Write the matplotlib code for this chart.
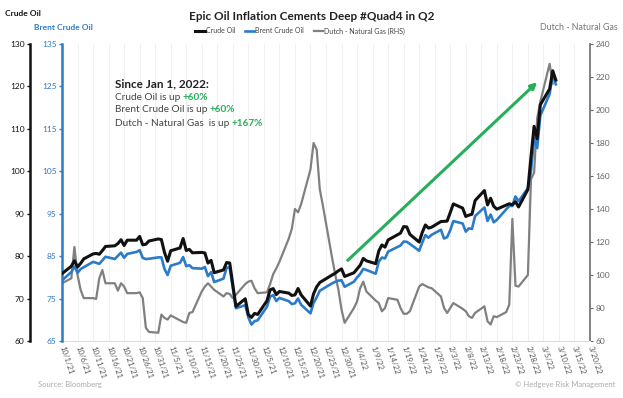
import matplotlib
matplotlib.use('Agg')
import matplotlib.pyplot as plt
import pandas as pd

plt.rcParams['font.family'] = ['Lato', 'DejaVu Sans']

# ---------------- data ----------------
oil_dates = [
    '2021-10-01', '2021-10-04', '2021-10-05', '2021-10-06', '2021-10-07', '2021-10-08',
    '2021-10-11', '2021-10-12', '2021-10-13', '2021-10-14', '2021-10-15',
    '2021-10-18', '2021-10-19', '2021-10-20', '2021-10-21', '2021-10-22',
    '2021-10-25', '2021-10-26', '2021-10-27', '2021-10-28', '2021-10-29',
    '2021-11-01', '2021-11-02', '2021-11-03', '2021-11-04', '2021-11-05',
    '2021-11-08', '2021-11-09', '2021-11-10', '2021-11-11', '2021-11-12',
    '2021-11-15', '2021-11-16', '2021-11-17', '2021-11-18', '2021-11-19',
    '2021-11-22', '2021-11-23', '2021-11-24', '2021-11-26',
    '2021-11-29', '2021-11-30', '2021-12-01', '2021-12-02', '2021-12-03',
    '2021-12-06', '2021-12-07', '2021-12-08', '2021-12-09', '2021-12-10',
    '2021-12-13', '2021-12-14', '2021-12-15', '2021-12-16', '2021-12-17',
    '2021-12-20', '2021-12-21', '2021-12-22', '2021-12-23',
    '2021-12-27', '2021-12-28', '2021-12-29', '2021-12-30', '2021-12-31',
    '2022-01-03', '2022-01-04', '2022-01-05', '2022-01-06', '2022-01-07',
    '2022-01-10', '2022-01-11', '2022-01-12', '2022-01-13', '2022-01-14',
    '2022-01-18', '2022-01-19', '2022-01-20', '2022-01-21',
    '2022-01-24', '2022-01-25', '2022-01-26', '2022-01-27', '2022-01-28',
    '2022-01-31', '2022-02-01', '2022-02-02', '2022-02-03', '2022-02-04',
    '2022-02-07', '2022-02-08', '2022-02-09', '2022-02-10', '2022-02-11',
    '2022-02-14', '2022-02-15', '2022-02-16', '2022-02-17', '2022-02-18',
    '2022-02-22', '2022-02-23', '2022-02-24', '2022-02-25',
    '2022-02-28', '2022-03-01', '2022-03-02', '2022-03-03', '2022-03-04',
    '2022-03-07', '2022-03-08', '2022-03-09',
]
crude_oil = [
    75.88, 77.62, 78.93, 77.43, 78.30, 79.35,
    80.52, 80.64, 80.44, 81.31, 82.28,
    82.44, 82.96, 83.87, 82.50, 83.76,
    83.76, 84.65, 82.66, 82.81, 83.57,
    84.05, 83.91, 80.86, 78.81, 81.27,
    81.93, 84.15, 81.34, 81.59, 80.79,
    80.88, 80.76, 78.36, 79.01, 76.10,
    76.75, 78.50, 78.39, 68.15,
    69.95, 66.18, 65.57, 66.50, 66.26,
    69.49, 72.05, 72.36, 70.94, 71.67,
    71.29, 70.73, 70.87, 72.38, 70.86,
    68.23, 71.12, 72.76, 73.79,
    75.57, 75.98, 76.56, 76.99, 75.21,
    76.08, 76.99, 77.85, 79.46, 78.90,
    78.23, 81.22, 82.64, 82.12, 83.82,
    85.43, 86.96, 86.90, 85.14,
    83.31, 85.60, 87.35, 86.61, 86.82,
    88.15, 88.20, 88.26, 90.27, 92.31,
    91.32, 89.36, 89.66, 89.88, 93.10,
    95.46, 92.07, 93.66, 91.76, 91.07,
    92.35, 92.10, 92.81, 91.59,
    95.72, 103.41, 110.60, 107.67, 115.68,
    119.40, 123.70, 121.50,
]
brent_crude_oil = [
    79.28, 81.26, 82.56, 81.08, 81.95, 82.39,
    83.65, 83.42, 83.18, 84.00, 84.86,
    84.33, 85.08, 85.82, 84.61, 85.53,
    85.99, 86.40, 84.58, 84.32, 84.38,
    84.71, 84.72, 81.99, 80.54, 82.74,
    83.43, 84.78, 82.64, 82.87, 82.17,
    82.05, 82.43, 80.28, 81.24, 78.89,
    79.70, 82.31, 82.25, 72.72,
    73.44, 70.57, 68.87, 69.67, 69.88,
    73.08, 75.44, 75.82, 74.42, 75.15,
    74.39, 73.70, 73.88, 75.02, 73.52,
    71.52, 73.98, 75.29, 76.85,
    78.60, 78.94, 79.23, 79.32, 77.78,
    78.98, 80.00, 80.80, 81.99, 81.75,
    80.87, 83.72, 84.67, 84.47, 86.06,
    87.51, 88.44, 88.38, 87.89,
    86.27, 88.20, 89.96, 89.34, 90.03,
    91.21, 89.16, 89.47, 91.11, 93.27,
    92.69, 90.78, 91.55, 91.41, 94.44,
    96.48, 93.28, 94.81, 92.97, 93.54,
    96.84, 96.84, 99.08, 97.93,
    100.99, 104.97, 112.93, 110.46, 118.11,
    123.21, 127.98, 125.50,
]
gas_dates = [
    '2021-10-01', '2021-10-04', '2021-10-05', '2021-10-06', '2021-10-07', '2021-10-08',
    '2021-10-11', '2021-10-12', '2021-10-13', '2021-10-14', '2021-10-15',
    '2021-10-18', '2021-10-19', '2021-10-20', '2021-10-21', '2021-10-22',
    '2021-10-25', '2021-10-26', '2021-10-27', '2021-10-28', '2021-10-29',
    '2021-11-01', '2021-11-02', '2021-11-03', '2021-11-04', '2021-11-05',
    '2021-11-08', '2021-11-09', '2021-11-10', '2021-11-11', '2021-11-12',
    '2021-11-15', '2021-11-16', '2021-11-17', '2021-11-18', '2021-11-19',
    '2021-11-22', '2021-11-23', '2021-11-24', '2021-11-25', '2021-11-26',
    '2021-11-29', '2021-11-30', '2021-12-01', '2021-12-02', '2021-12-03',
    '2021-12-06', '2021-12-07', '2021-12-08', '2021-12-09', '2021-12-10',
    '2021-12-13', '2021-12-14', '2021-12-15', '2021-12-16', '2021-12-17',
    '2021-12-20', '2021-12-21', '2021-12-22', '2021-12-23', '2021-12-24',
    '2021-12-27', '2021-12-28', '2021-12-29', '2021-12-30', '2021-12-31',
    '2022-01-03', '2022-01-04', '2022-01-05', '2022-01-06', '2022-01-07',
    '2022-01-10', '2022-01-11', '2022-01-12', '2022-01-13', '2022-01-14',
    '2022-01-17', '2022-01-18', '2022-01-19', '2022-01-20', '2022-01-21',
    '2022-01-24', '2022-01-25', '2022-01-26', '2022-01-27', '2022-01-28',
    '2022-01-31', '2022-02-01', '2022-02-02', '2022-02-03', '2022-02-04',
    '2022-02-07', '2022-02-08', '2022-02-09', '2022-02-10', '2022-02-11',
    '2022-02-14', '2022-02-15', '2022-02-16', '2022-02-17', '2022-02-18',
    '2022-02-21', '2022-02-22', '2022-02-23', '2022-02-24', '2022-02-25',
    '2022-02-28', '2022-03-01', '2022-03-02', '2022-03-03', '2022-03-04',
    '2022-03-07', '2022-03-08',
]
dutch_gas = [
    95, 98, 117, 100, 91, 86,
    86, 85.5, 98, 103, 95,
    95, 90.5, 95, 93, 89,
    89, 89.5, 86, 68, 65.5,
    65, 76, 74, 73, 75.5,
    72.5, 71.5, 71, 77, 77.5,
    90, 93, 95, 93, 91,
    87, 89, 88.5, 86, 88,
    94.5, 96, 96.5, 92, 89,
    89.5, 94.5, 100.5, 104, 108,
    122, 128, 140, 138, 143,
    164, 180, 176, 152, 142,
    110, 100, 91, 79, 71,
    80, 84, 92, 96, 90,
    84.5, 83, 78, 80, 86,
    85, 80, 76.5, 76.5, 78,
    93, 94.5, 93.5, 92.5, 92,
    87, 80, 77, 80, 83,
    79.5, 78, 75, 74, 77,
    81, 72, 70, 75, 74.5,
    77.5, 82, 134, 93.5, 93,
    100, 158, 162, 195, 205,
    228, 216,
]
crude_ticks = [60, 70, 80, 90, 100, 110, 120, 130]
brent_ticks = [65, 75, 85, 95, 105, 115, 125, 135]
gas_ticks = [60, 80, 100, 120, 140, 160, 180, 200, 220, 240]
x_tick_labels = [
    '10/1/21', '10/6/21', '10/11/21', '10/16/21', '10/21/21', '10/26/21', '10/31/21',
    '11/5/21', '11/10/21', '11/15/21', '11/20/21', '11/25/21', '11/30/21',
    '12/5/21', '12/10/21', '12/15/21', '12/20/21', '12/25/21', '12/30/21',
    '1/4/22', '1/9/22', '1/14/22', '1/19/22', '1/24/22', '1/29/22',
    '2/3/22', '2/8/22', '2/13/22', '2/18/22', '2/23/22', '2/28/22',
    '3/5/22', '3/10/22', '3/15/22', '3/20/22',
]
arrow_from = ('2022-01-01', 79.0)
arrow_to = ('2022-03-03', 121.0)

# ---------------- styling ----------------
BLACK = '#111111'
BLUE = '#2b7bcb'
GRAY = '#808080'
GREEN = '#27ae5a'
W, H = 623, 398

def fx(px):
    return px / W

def fy(py):
    return 1 - py / H

fig = plt.figure(figsize=(W / 100, H / 100), dpi=100, facecolor='white')
L, R, T, B = 62, 590, 44, 341
axg = fig.add_axes([fx(L), fy(B), fx(R) - fx(L), fy(T) - fy(B)])
axc = axg.twinx()
axb = axg.twinx()
axb.set_zorder(1)
axc.set_zorder(2)
for a in (axc, axb):
    a.patch.set_visible(False)

oil_x = pd.to_datetime(oil_dates)
gas_x = pd.to_datetime(gas_dates)

lg, = axg.plot(gas_x, dutch_gas, color=GRAY, lw=1.6, solid_joinstyle='round')
lb, = axb.plot(oil_x, brent_crude_oil, color=BLUE, lw=1.9, solid_joinstyle='round')
lc, = axc.plot(oil_x, crude_oil, color=BLACK, lw=2.2, solid_joinstyle='round')

xt = pd.to_datetime(x_tick_labels, format='%m/%d/%y')
axg.set_xlim(xt[0], xt[-1])
axg.set_xticks(xt)
axg.set_xticklabels(x_tick_labels, rotation=-72, ha='left', va='center',
                    rotation_mode='anchor', fontsize=5.6, color='#555555')
axg.tick_params(axis='x', length=0, pad=4)
axg.grid(axis='x', color='#ececec', lw=0.6)
axg.set_axisbelow(True)

# gas axis (right)
axg.set_ylim(60, 240)
axg.set_yticks(gas_ticks)
axg.yaxis.tick_right()
axg.tick_params(axis='y', labelsize=6, colors='#666666', length=2, width=0.8, pad=2)
for s in ('top', 'left'):
    axg.spines[s].set_visible(False)
axg.spines['right'].set_color('#777777')
axg.spines['right'].set_linewidth(1.3)
axg.spines['bottom'].set_color('#dddddd')
axg.spines['bottom'].set_linewidth(0.8)

# crude axis (outer left)
axc.set_ylim(60, 130)
axc.set_yticks(crude_ticks)
axc.yaxis.tick_left()
axc.spines['left'].set_position(('outward', 23))
axc.spines['left'].set_color(BLACK)
axc.spines['left'].set_linewidth(1.8)
for s in ('top', 'right', 'bottom'):
    axc.spines[s].set_visible(False)
axc.tick_params(axis='y', labelsize=6, colors=BLACK, length=2, width=1, pad=2)

# brent axis (inner left)
axb.set_ylim(65, 135)
axb.set_yticks(brent_ticks)
axb.yaxis.tick_left()
axb.spines['left'].set_visible(True)
axb.spines['left'].set_color(BLUE)
axb.spines['left'].set_linewidth(1.8)
for s in ('top', 'right', 'bottom'):
    axb.spines[s].set_visible(False)
axb.tick_params(axis='y', labelsize=6, colors=BLUE, length=2, width=1, pad=2)

# arrow
axc.annotate('', xy=(pd.Timestamp(arrow_to[0]), arrow_to[1]),
             xytext=(pd.Timestamp(arrow_from[0]), arrow_from[1]),
             arrowprops=dict(arrowstyle='-|>', color=GREEN, lw=2.2,
                             mutation_scale=9, shrinkA=0, shrinkB=0))

# titles and labels
fig.text(0.5, fy(17), 'Epic Oil Inflation Cements Deep #Quad4 in Q2',
         ha='center', va='center', fontsize=8.5, fontweight='bold', color='#222222')
fig.text(fx(5), fy(14), 'Crude Oil', ha='left', va='center',
         fontsize=6, fontweight='bold', color=BLACK)
fig.text(fx(34), fy(28), 'Brent Crude Oil', ha='left', va='center',
         fontsize=6, fontweight='bold', color=BLUE)
fig.text(fx(618), fy(28), 'Dutch - Natural Gas', ha='right', va='center',
         fontsize=6.4, color='#777777')

fig.legend([lc, lb, lg], ['Crude Oil', 'Brent Crude Oil', 'Dutch - Natural Gas (RHS)'],
           loc='center', bbox_to_anchor=(fx(300), fy(31)), ncol=3, frameon=False,
           fontsize=5, handlelength=1.4, handletextpad=0.1, columnspacing=1.4,
           labelcolor='#444444')

# callout text
fig.text(fx(115), fy(84), 'Since Jan 1, 2022:', ha='left', va='center',
         fontsize=8.5, fontweight='bold', color='#222222')
lines = [('Crude Oil is up ', '+60%', 97),
         ('Brent Crude Oil is up ', '+60%', 110),
         ('Dutch - Natural Gas  is up ', '+167%', 123)]
for base, pct, yy in lines:
    t = fig.text(fx(115), fy(yy), base, ha='left', va='center',
                 fontsize=7.2, color='#444444')
    fig.add_artist(plt.Annotation(pct, xy=(1, 0), xycoords=t, ha='left', va='bottom',
                                  fontsize=7.2, fontweight='bold', color=GREEN))

fig.text(fx(38), fy(385), 'Source: Bloomberg', ha='left', va='center',
         fontsize=5.5, color='#aaaaaa')
fig.text(fx(615), fy(385), '\u00a9 Hedgeye Risk Management', ha='right', va='center',
         fontsize=5.5, color='#aaaaaa')

fig.savefig('out.png', dpi=100, facecolor='white')
